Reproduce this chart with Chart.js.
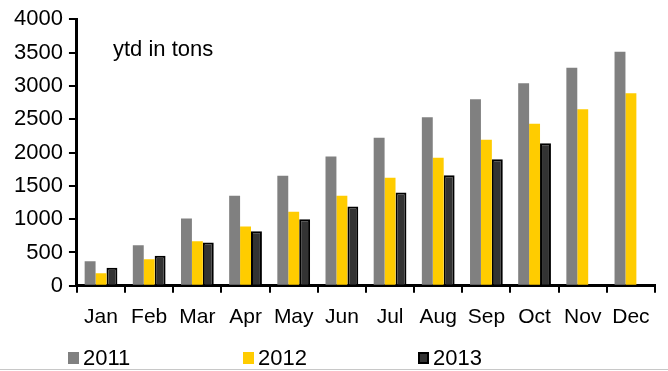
<!DOCTYPE html>
<html>
<head>
<meta charset="utf-8">
<script src="https://cdn.jsdelivr.net/npm/chart.js@4/dist/chart.umd.min.js"></script>
<style>
    body { margin: 0; background: #fff; font-family: 'Liberation Sans', Arial, sans-serif; }
    #wrap { position: relative; width: 668px; height: 371px; overflow: hidden; }
    #chartBox { position: absolute; left: 0; top: 0; width: 668px; height: 346px; }
    #legend { position: absolute; left: 68px; top: 345px; display: flex; font-size: 22px; color: #000; }
    #legend .item { width: 175px; display: flex; align-items: center; }
    #legend .box { width: 11px; height: 12px; margin-right: 4px; box-sizing: border-box; }
    #bottomLine { position: absolute; left: 0; top: 369px; width: 668px; height: 1px; background: #c8c8c8; }
</style>
</head>
<body>
<div id="wrap">
    <div id="chartBox"><canvas id="ytdChart"></canvas></div>
    <div id="legend"></div>
    <div id="bottomLine"></div>
</div>
<script>
// Donnees (tonnes cumulees depuis le debut de l'annee)
const months = ['Jan', 'Feb', 'Mar', 'Apr', 'May', 'Jun', 'Jul', 'Aug', 'Sep', 'Oct', 'Nov', 'Dec'];
const values2011 = [370, 610, 1010, 1350, 1650, 1940, 2220, 2530, 2800, 3040, 3270, 3510];
const values2012 = [190, 400, 670, 890, 1110, 1350, 1620, 1920, 2190, 2430, 2650, 2890];
const values2013 = [270, 450, 650, 820, 1000, 1190, 1400, 1660, 1900, 2140, null, null];
const yTicks = [0, 500, 1000, 1500, 2000, 2500, 3000, 3500, 4000];

const fontFamily = "'Liberation Sans', Arial, sans-serif";

// Petit texte "ytd in tons" dans la zone du graphique
const noteLabel = {
    id: 'noteLabel',
    afterDraw(chart) {
        const ctx = chart.ctx;
        const area = chart.chartArea;
        ctx.save();
        ctx.fillStyle = '#000';
        ctx.font = '22px ' + fontFamily;
        ctx.textBaseline = 'alphabetic';
        ctx.fillText('ytd in tons', area.left + 36, area.top + 37);
        ctx.restore();
    }
};

const datasets = [
    { label: '2011', data: values2011, backgroundColor: '#808080', borderWidth: 0 },
    { label: '2012', data: values2012, backgroundColor: '#FFCC00', borderWidth: 0 },
    { label: '2013', data: values2013, backgroundColor: '#333333', borderColor: '#000000', borderWidth: 2 }
];

const chart = new Chart(document.getElementById('ytdChart'), {
    type: 'bar',
    data: { labels: months, datasets: datasets },
    options: {
        responsive: true,
        maintainAspectRatio: false,
        animation: false,
        layout: { padding: { top: 7, right: 13, bottom: 4, left: 8 } },
        datasets: {
            bar: { categoryPercentage: 0.68, barPercentage: 1.0 }
        },
        plugins: {
            legend: { display: false },
            tooltip: { enabled: false }
        },
        scales: {
            x: {
                grid: { display: true, drawOnChartArea: false, drawTicks: true, tickLength: 7, color: '#000', lineWidth: 2 },
                border: { display: true, color: '#000', width: 3 },
                ticks: { color: '#000', font: { family: fontFamily, size: 21 }, padding: 12, maxRotation: 0 }
            },
            y: {
                min: 0,
                max: 4000,
                afterBuildTicks(axis) {
                    axis.ticks = yTicks.map(v => ({ value: v }));
                },
                grid: { display: true, drawOnChartArea: false, drawTicks: true, tickLength: 8, color: '#000', lineWidth: 2 },
                border: { display: true, color: '#000', width: 3 },
                ticks: {
                    color: '#000',
                    font: { family: fontFamily, size: 22 },
                    padding: 6,
                    callback: value => String(value)
                }
            }
        }
    },
    plugins: [noteLabel]
});

// Legende HTML sous le graphique
const legend = document.getElementById('legend');
datasets.forEach(ds => {
    const item = document.createElement('div');
    item.className = 'item';
    const box = document.createElement('span');
    box.className = 'box';
    box.style.background = ds.backgroundColor;
    if (ds.borderWidth) box.style.border = '2px solid ' + ds.borderColor;
    const text = document.createElement('span');
    text.innerText = ds.label;
    item.appendChild(box);
    item.appendChild(text);
    legend.appendChild(item);
});
</script>
</body>
</html>
